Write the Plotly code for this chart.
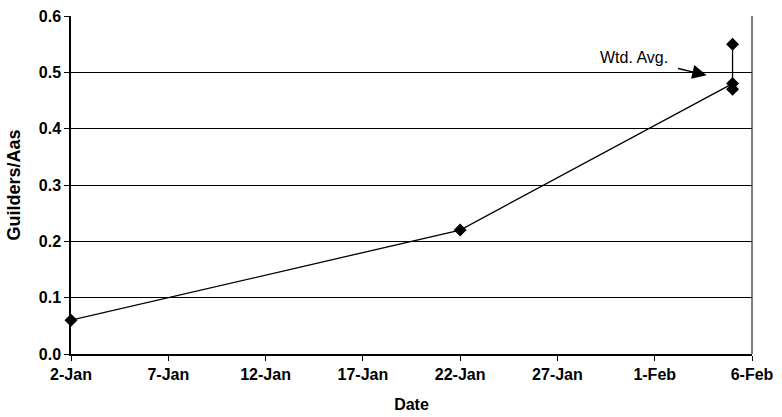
import plotly.graph_objects as go

# Price observations (guilders per aas), winter 1637
dates = ["1637-01-02", "1637-01-22", "1637-02-05"]
wtd_avg = [0.06, 0.22, 0.48]

# High / low quotes on the last date
range_dates = ["1637-02-05", "1637-02-05"]
range_values = [0.55, 0.47]

tick_vals = ["1637-01-02", "1637-01-07", "1637-01-12", "1637-01-17",
             "1637-01-22", "1637-01-27", "1637-02-01", "1637-02-06"]
tick_text = ["2-Jan", "7-Jan", "12-Jan", "17-Jan", "22-Jan", "27-Jan", "1-Feb", "6-Feb"]
y_ticks = [0.0, 0.1, 0.2, 0.3, 0.4, 0.5, 0.6]

font_family = "Liberation Sans, Arial, sans-serif"

fig = go.Figure()
fig.add_trace(go.Scatter(
    x=range_dates, y=range_values, mode="lines+markers",
    line=dict(color="black", width=1.3),
    marker=dict(symbol="diamond", size=10, color="black"),
    showlegend=False, cliponaxis=False,
))
fig.add_trace(go.Scatter(
    x=dates, y=wtd_avg, mode="lines+markers",
    line=dict(color="black", width=1.3),
    marker=dict(symbol="diamond", size=10, color="black"),
    showlegend=False, cliponaxis=False,
))

fig.add_annotation(
    x="1637-02-03 16:00", y=0.495, xref="x", yref="y",
    ax=-30, ay=-7, text="", showarrow=True,
    arrowhead=2, arrowsize=2.2, arrowwidth=1.3, arrowcolor="black",
)
fig.add_annotation(
    x="1637-01-30 22:00", y=0.527, xref="x", yref="y",
    text="Wtd. Avg.", showarrow=False, xanchor="center", yanchor="middle",
    font=dict(family=font_family, size=16, color="black"),
)

fig.update_layout(
    width=782, height=417,
    margin=dict(l=71, r=30, t=16, b=63),
    paper_bgcolor="white", plot_bgcolor="white",
    font=dict(family=font_family, size=16, color="black"),
    xaxis=dict(
        type="date", range=["1637-01-02", "1637-02-06"], automargin=False,
        tickmode="array", tickvals=tick_vals, ticktext=tick_text,
        tickfont=dict(family=font_family, size=16, weight="bold"),
        showgrid=False, showline=True, linecolor="black", linewidth=1.5,
        ticks="outside", ticklen=5, tickcolor="black", mirror=False,
        title=dict(text="<b>Date</b>", standoff=17,
                   font=dict(family=font_family, size=16)),
        zeroline=False,
    ),
    yaxis=dict(
        range=[0, 0.6], tickvals=y_ticks, tickformat=".1f", automargin=False,
        tickfont=dict(family=font_family, size=16, weight="bold"),
        showgrid=True, gridcolor="black", gridwidth=1,
        showline=True, linecolor="black", linewidth=1.5,
        ticks="outside", ticklen=5, tickcolor="black",
        title=dict(text="<b>Guilders/Aas</b>", standoff=13,
                   font=dict(family=font_family, size=18)),
        zeroline=False,
    ),
)
# Right-hand frame edge
fig.add_shape(type="line", xref="paper", yref="paper", x0=1, x1=1, y0=0, y1=1,
              line=dict(color="black", width=1))

fig.write_html("out.html")
